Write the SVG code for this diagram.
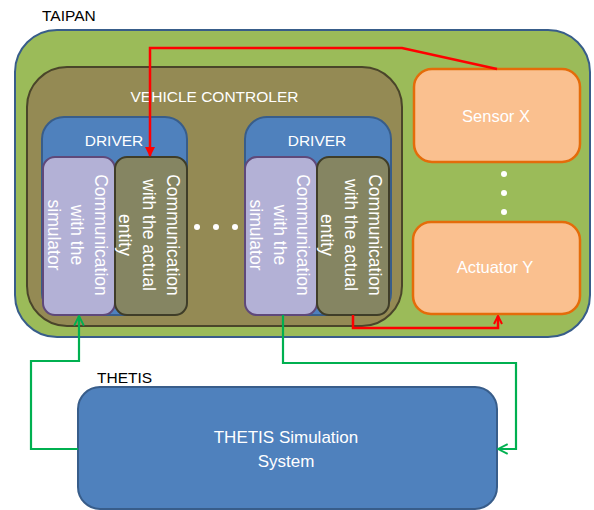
<svg xmlns="http://www.w3.org/2000/svg" width="594" height="510" viewBox="0 0 594 510">
<defs>
<style>
text{font-family:"Liberation Sans",Arial,sans-serif;}
.w{fill:#ffffff;text-anchor:middle;}
.k{fill:#000000;}
.drv{fill:#4f81bd;stroke:#385d8a;stroke-width:2;}
.sim{fill:#b3b1d6;stroke:#5f497a;stroke-width:2;}
.ent{fill:#858562;stroke:#3f3d28;stroke-width:2;}
.dev{fill:#fac08f;stroke:#e46c0a;stroke-width:2.5;}
.dot{fill:#ffffff;}
.red{fill:none;stroke:#ff0000;stroke-width:2.5;}
.grn{fill:none;stroke:#00b050;stroke-width:2.2;}
.vt{font-size:17.5px;}
</style>
<marker id="redFill" viewBox="0 0 10 10" refX="9" refY="5" markerWidth="4" markerHeight="4" orient="auto" markerUnits="strokeWidth">
<path d="M0,0 L10,5 L0,10 z" fill="#ff0000"/>
</marker>
<marker id="redOpen" viewBox="0 0 10 10" refX="9" refY="5" markerWidth="4" markerHeight="4" orient="auto" markerUnits="strokeWidth">
<path d="M1,1 L9,5 L1,9" fill="none" stroke="#ff0000" stroke-width="2"/>
</marker>
<marker id="grnOpen" viewBox="0 0 10 10" refX="9" refY="5" markerWidth="5.5" markerHeight="5.5" orient="auto" markerUnits="strokeWidth">
<path d="M1,1 L9,5 L1,9" fill="none" stroke="#00b050" stroke-width="1.6"/>
</marker>
</defs>

<g id="taipan">
<text class="k" x="42" y="21" font-size="15.5">TAIPAN</text>
<rect x="15" y="30" width="575" height="307" rx="42" fill="#9bbb59" stroke="#385d8a" stroke-width="2"/>
</g>

<g id="vehicle-controler">
<rect x="27" y="67" width="375" height="259" rx="40" fill="#948a54" stroke="#4a452a" stroke-width="2"/>
<text class="w" x="214.5" y="102" font-size="15.5">VEHICLE CONTROLER</text>
</g>

<g id="driver1">
<rect class="drv" x="42" y="117" width="145" height="198" rx="22"/>
<text class="w" x="114" y="146" font-size="15.5">DRIVER</text>
</g>
<g id="driver1-sim">
<rect class="sim" x="43" y="157" width="72" height="158" rx="12"/>
<text class="w vt" transform="translate(78.5,235) rotate(90)"><tspan x="0" y="-16">Communication</tspan><tspan x="0" y="7.5">with the</tspan><tspan x="0" y="31">simulator</tspan></text>
</g>
<g id="driver1-entity">
<rect class="ent" x="115" y="157" width="72" height="158" rx="12"/>
<text class="w vt" transform="translate(151,235) rotate(90)"><tspan x="0" y="-16">Communication</tspan><tspan x="0" y="8.5">with the actual</tspan><tspan x="0" y="32">entity</tspan></text>
</g>

<g id="hdots">
<circle class="dot" cx="197" cy="227" r="3"/>
<circle class="dot" cx="216" cy="227" r="3"/>
<circle class="dot" cx="235" cy="227" r="3"/>
</g>

<g id="driver2">
<rect class="drv" x="245" y="117" width="146" height="198" rx="22"/>
<text class="w" x="317" y="146" font-size="15.5">DRIVER</text>
</g>
<g id="driver2-sim">
<rect class="sim" x="245" y="157" width="72" height="158" rx="12"/>
<text class="w vt" transform="translate(281,235) rotate(90)"><tspan x="0" y="-16">Communication</tspan><tspan x="0" y="7.5">with the</tspan><tspan x="0" y="31">simulator</tspan></text>
</g>
<g id="driver2-entity">
<rect class="ent" x="317" y="157" width="72" height="158" rx="12"/>
<text class="w vt" transform="translate(353,235) rotate(90)"><tspan x="0" y="-16">Communication</tspan><tspan x="0" y="8.5">with the actual</tspan><tspan x="0" y="32">entity</tspan></text>
</g>

<g id="sensor-x">
<rect class="dev" x="414" y="69" width="166" height="93" rx="18"/>
<text class="w" x="496" y="122" font-size="16.5">Sensor X</text>
</g>

<g id="vdots">
<circle class="dot" cx="504" cy="174" r="3"/>
<circle class="dot" cx="504" cy="193" r="3"/>
<circle class="dot" cx="504" cy="212" r="3"/>
</g>

<g id="actuator-y">
<rect class="dev" x="413" y="222" width="167" height="92" rx="18"/>
<text class="w" x="495" y="273" font-size="16.5">Actuator Y</text>
</g>

<g id="thetis">
<text class="k" x="97" y="383" font-size="15.5">THETIS</text>
<rect x="78" y="387" width="419" height="122" rx="22" fill="#4f81bd" stroke="#385d8a" stroke-width="2"/>
<text class="w" x="286" y="443" font-size="17">THETIS Simulation</text>
<text class="w" x="286" y="467" font-size="17">System</text>
</g>

<g id="connectors">
<path class="red" d="M497,69 L402,48 L150,48 L150,156" marker-end="url(#redFill)"/>
<path class="red" d="M353,315 L353,328 L498,328 L498,316" marker-end="url(#redOpen)"/>
<path class="grn" d="M78,449 L31,449 L31,361 L79,361 L79,316" marker-end="url(#grnOpen)"/>
<path class="grn" d="M283,315 L283,363 L516,363 L516,449 L498,449" marker-end="url(#grnOpen)"/>
</g>
</svg>
